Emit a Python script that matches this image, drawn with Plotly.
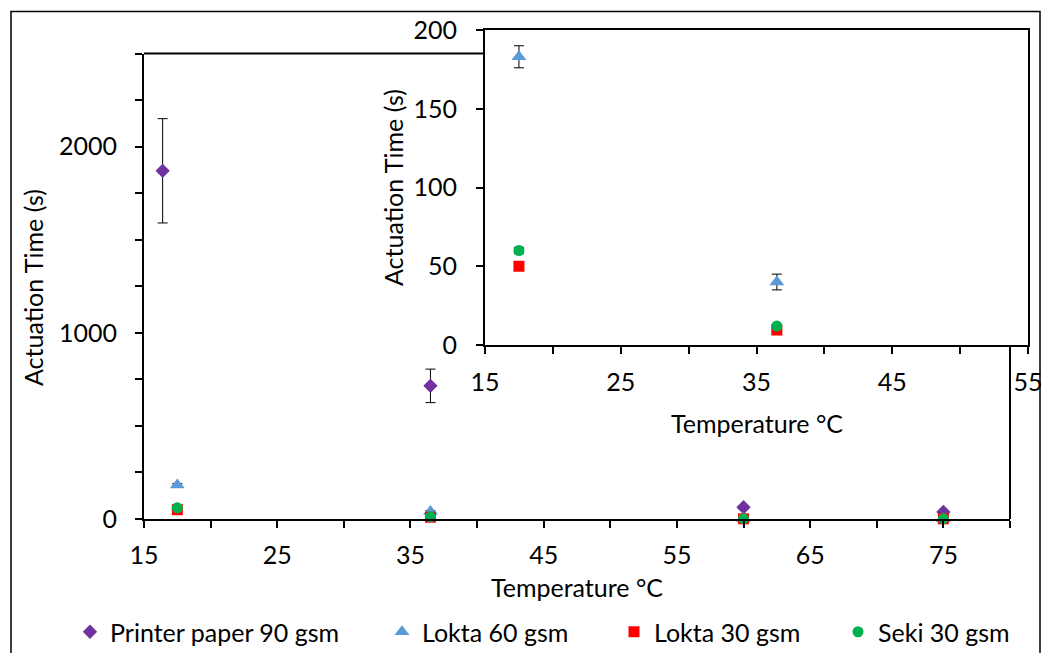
import plotly.graph_objects as go

# Actuation time vs temperature for four paper types
temp_printer = [16.4, 36.5, 60, 75]
printer_90 = [1870, 715, 63, 38]
printer_90_err = [280, 90, 8, 5]

temp_paper = [17.5, 36.5, 60, 75]
lokta_60 = [183, 40, 3, 2]
lokta_60_err = [7, 5, 1, 1]
lokta_30 = [50, 9.5, 1, 1]
lokta_30_err = [2, 1, 0.5, 0.5]
seki_30 = [60, 12, 2, 2]
seki_30_err = [2, 1, 0.5, 0.5]

series = [
    ("Printer paper 90 gsm", temp_printer, printer_90, printer_90_err, "diamond", "#7030A0", 11),
    ("Lokta 60 gsm", temp_paper, lokta_60, lokta_60_err, "triangle-up", "#5B9BD5", 13),
    ("Lokta 30 gsm", temp_paper, lokta_30, lokta_30_err, "square", "#FF0000", 11),
    ("Seki 30 gsm", temp_paper, seki_30, seki_30_err, "circle", "#00B050", 11),
]

main_x_ticks = list(range(15, 81, 5))
main_x_text = [str(v) if (v - 15) % 10 == 0 and v <= 75 else "" for v in main_x_ticks]
main_y_ticks = list(range(0, 2501, 250))
main_y_text = [str(v) if v % 1000 == 0 else "" for v in main_y_ticks]
inset_x_ticks = list(range(15, 56, 5))
inset_x_text = [str(v) if (v - 15) % 10 == 0 else "" for v in inset_x_ticks]
inset_y_ticks = list(range(0, 201, 50))

FONT = "Lato"
FS = 25
W, H = 1045, 653


def px(x):
    return x / W


def py(y):
    return (H - y) / H


# each legend entry gets its own legend box so the entries can be spaced freely
legend_ids = ["legend", "legend2", "legend3", "legend4"]
legend_marker_x = [90, 402, 634, 858]

fig = go.Figure()

for (name, xs, ys, errs, sym, col, size), lid in zip(series, legend_ids):
    err = dict(type="data", array=errs, visible=True, color="black", thickness=1, width=5)
    fig.add_trace(go.Scatter(
        x=xs, y=ys, mode="markers", name=name, error_y=err, legend=lid,
        marker=dict(symbol=sym, color=col, size=size, line=dict(width=0)),
        xaxis="x", yaxis="y", cliponaxis=False,
    ))
    fig.add_trace(go.Scatter(
        x=xs, y=ys, mode="markers", name=name, error_y=err, showlegend=False,
        marker=dict(symbol=sym, color=col, size=size, line=dict(width=0)),
        xaxis="x2", yaxis="y2", cliponaxis=True,
    ))

axis_common = dict(
    showgrid=False, zeroline=False, showline=True, linecolor="black", linewidth=2,
    ticks="outside", ticklen=7, tickwidth=2, tickcolor="black", automargin=False,
    tickfont=dict(family=FONT, size=FS, color="black"),
)

main_left, main_right = px(144), px(1010)
main_bottom, main_top = py(519), py(53.5)
inset_left, inset_right = px(485), px(1028)
inset_bottom, inset_top = py(345), py(30)

legends = {}
for lid, mx in zip(legend_ids, legend_marker_x):
    legends[lid] = dict(
        orientation="h", xref="container", yref="container",
        x=(mx - 20) / W, xanchor="left", y=py(632), yanchor="middle",
        font=dict(family=FONT, size=FS, color="black"),
        bgcolor="rgba(0,0,0,0)", borderwidth=0,
    )

fig.update_layout(
    width=W, height=H,
    margin=dict(l=0, r=0, t=0, b=0, autoexpand=False),
    paper_bgcolor="white", plot_bgcolor="white",
    font=dict(family=FONT, size=FS, color="black"),
    xaxis=dict(axis_common, domain=[main_left, main_right], range=[15, 80],
               tickmode="array", tickvals=main_x_ticks, ticktext=main_x_text,
               ticklabelstandoff=6, anchor="y"),
    yaxis=dict(axis_common, domain=[main_bottom, main_top], range=[0, 2500],
               tickmode="array", tickvals=main_y_ticks, ticktext=main_y_text,
               ticklabelstandoff=13, anchor="x"),
    xaxis2=dict(axis_common, domain=[inset_left, inset_right], range=[15, 55],
                tickmode="array", tickvals=inset_x_ticks, ticktext=inset_x_text,
                mirror=True, ticklabelstandoff=7, anchor="y2"),
    yaxis2=dict(axis_common, domain=[inset_bottom, inset_top], range=[0, 200],
                tickmode="array", tickvals=inset_y_ticks,
                mirror=True, ticklabelstandoff=14, anchor="x2"),
    showlegend=True,
    shapes=[
        # outer chart border
        dict(type="rect", xref="paper", yref="paper", x0=px(11), x1=px(1040), y0=-0.1, y1=py(11.5),
             line=dict(color="black", width=1.5), fillcolor="rgba(0,0,0,0)", layer="below"),
        # inset background hides the main frame behind it
        dict(type="rect", xref="paper", yref="paper", x0=inset_left, x1=inset_right,
             y0=inset_bottom, y1=inset_top, line=dict(width=0), fillcolor="white", layer="below"),
        # main frame top edge (visible left of the inset)
        dict(type="line", xref="paper", yref="paper", x0=main_left, x1=inset_left,
             y0=main_top, y1=main_top, line=dict(color="black", width=2)),
        # main frame right edge (visible below the inset)
        dict(type="line", xref="paper", yref="paper", x0=main_right, x1=main_right,
             y0=main_bottom, y1=inset_bottom, line=dict(color="black", width=2)),
    ],
    annotations=[
        dict(text="Temperature °C", xref="paper", yref="paper", x=px(577), y=py(587),
             showarrow=False, xanchor="center", yanchor="middle", font=dict(size=FS)),
        dict(text="Actuation Time (s)", xref="paper", yref="paper", x=px(33), y=py(288),
             showarrow=False, textangle=-90, xanchor="center", yanchor="middle", font=dict(size=FS)),
        dict(text="Temperature °C", xref="paper", yref="paper", x=px(757), y=py(423),
             showarrow=False, xanchor="center", yanchor="middle", font=dict(size=FS)),
        dict(text="Actuation Time (s)", xref="paper", yref="paper", x=px(393), y=py(188),
             showarrow=False, textangle=-90, xanchor="center", yanchor="middle", font=dict(size=FS)),
    ],
    **legends,
)

fig.write_html("out.html")
